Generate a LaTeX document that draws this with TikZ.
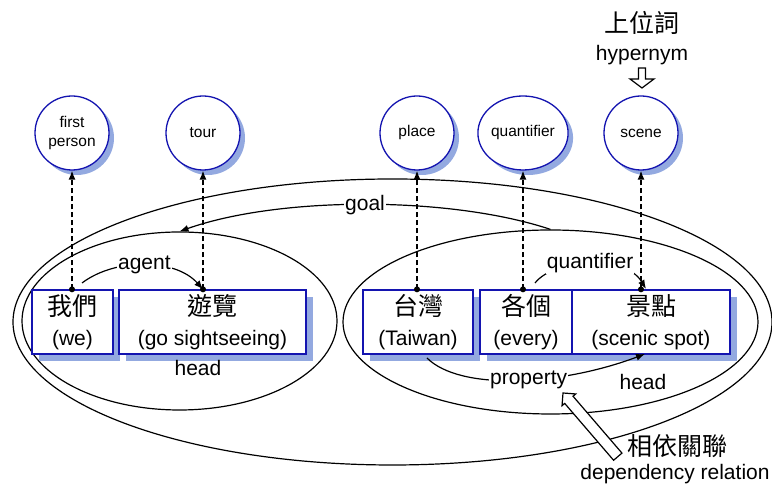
\documentclass[tikz,border=0pt]{standalone}
\usepackage{fontspec}
\setmainfont{Liberation Sans}
\newfontfamily\cjkfont{Noto Sans CJK TC}
\usetikzlibrary{arrows.meta,shadows,shapes.geometric}

\definecolor{conceptblue}{HTML}{1414B0}
\definecolor{shadeblue}{HTML}{93A9E0}

\tikzset{
  concept/.style={circle, draw=conceptblue, line width=1.3pt, fill=white,
    minimum size=74pt, inner sep=0pt, align=center,
    font=\fontsize{15.5}{19}\selectfont,
    drop shadow={fill=shadeblue, shadow xshift=5pt, shadow yshift=-5pt, opacity=1}},
  word/.style={rectangle, draw=conceptblue, line width=1.3pt, fill=white,
    minimum height=64pt, inner sep=0pt, align=center,
    font=\fontsize{21}{30}\selectfont,
    drop shadow={fill=shadeblue, shadow xshift=7pt, shadow yshift=-7pt, opacity=1}},
  group/.style={ellipse, draw, line width=1.2pt, inner sep=0pt},
  link/.style={line width=1.4pt, dash pattern=on 5pt off 3pt,
    -{Latex[length=9pt,width=7pt]}},
  rel/.style={line width=1.2pt, -{Latex[length=9pt,width=7pt]}},
  lbl/.style={fill=white, inner sep=1pt, font=\fontsize{21}{24}\selectfont},
  hollow/.style={draw, fill=white, line width=1.2pt, line join=miter}
}

\begin{document}
\begin{tikzpicture}[x=1pt, y=1pt]
  \useasboundingbox (0,0) rectangle (772,486);

  % Drawing the groups
  \node[group, minimum width=759pt, minimum height=286pt] (eBig) at (392.5,164) {};
  \node[group, minimum width=315pt, minimum height=178pt] (eLeft) at (179.5,165) {};
  \node[group, minimum width=415pt, minimum height=184pt] (eRight) at (550.5,164) {};

  % Drawing the concepts
  \node[concept] (cFirst) at (72,353) {first\\person};
  \node[concept] (cTour) at (203,353) {tour};
  \node[concept] (cPlace) at (417,353) {place};
  \node[concept, ellipse, minimum width=90pt, minimum height=74pt] (cQuant) at (523,353) {quantifier};
  \node[concept] (cScene) at (641,353) {scene};

  % Hypernym mark
  \node[font=\cjkfont\fontsize{25}{28}\selectfont] (tHyperZh) at (642,463) {上位詞};
  \node[font=\fontsize{21}{24}\selectfont] (tHyper) at (642,431) {hypernym};
  \draw[hollow] (638.5,418) -- (645.5,418) -- (645.5,407) -- (654,407) -- (642,398)
    -- (630,407) -- (638.5,407) -- cycle;

  % Drawing the words
  \node[word, minimum width=81pt] (wWe) at (72.5,164)
    {{\cjkfont\fontsize{25}{30}\selectfont 我們}\\(we)};
  \node[word, minimum width=187pt] (wTour) at (212.5,164)
    {{\cjkfont\fontsize{25}{30}\selectfont 遊覽}\\(go sightseeing)};
  \node[word, minimum width=110pt] (wTaiwan) at (418,164)
    {{\cjkfont\fontsize{25}{30}\selectfont 台灣}\\(Taiwan)};
  \node[word, minimum width=92pt] (wEvery) at (526,164)
    {{\cjkfont\fontsize{25}{30}\selectfont 各個}\\(every)};
  \node[word, minimum width=158pt] (wSpot) at (651,164)
    {{\cjkfont\fontsize{25}{30}\selectfont 景點}\\(scenic spot)};

  \node[font=\fontsize{21}{24}\selectfont] (hLeft) at (198,118) {head};
  \node[font=\fontsize{21}{24}\selectfont] (hRight) at (643,104) {head};

  % Drawing the relations
  \coordinate (agentStart) at (82,203);
  \coordinate (quantStart) at (535,203);
  \coordinate (quantEnd) at (646,197);
  \coordinate (propStart) at (427,128);
  \coordinate (propEnd) at (645,132);

  \draw[rel] (eRight.north) .. controls (450,290) and (280,290) ..
    node[lbl] (lGoal) {goal} (eLeft.north);
  \draw[rel] (agentStart) .. controls (115,228) and (175,228) ..
    node[lbl] (lAgent) {agent} (wTour.north -| cTour);
  \draw[rel] (quantStart) .. controls (555,228) and (625,232) ..
    node[lbl] (lQuant) {quantifier} (quantEnd);
  \draw[rel] (propStart) .. controls (460,95) and (560,100) ..
    node[lbl, pos=0.55] (lProp) {property} (propEnd);

  % Drawing the concept links
  \foreach \w/\c in {wWe/cFirst, wTour/cTour, wTaiwan/cPlace, wEvery/cQuant, wSpot/cScene} {
    \draw[link] (\w.north -| \c) -- (\c);
    \fill (\w.north -| \c) circle (3pt);
  }

  % Dependency relation mark
  \begin{scope}[shift={(563,93)}, rotate=-49.3]
    \draw[hollow] (0,0) -- (9,9) -- (9,5.5) -- (84,5.5) -- (84,-5.5) -- (9,-5.5)
      -- (9,-9) -- cycle;
  \end{scope}
  \node[font=\cjkfont\fontsize{25}{28}\selectfont] (tDepZh) at (677,40) {相依關聯};
  \node[font=\fontsize{21}{24}\selectfont] (tDep) at (675,12) {dependency relation};
\end{tikzpicture}
\end{document}
